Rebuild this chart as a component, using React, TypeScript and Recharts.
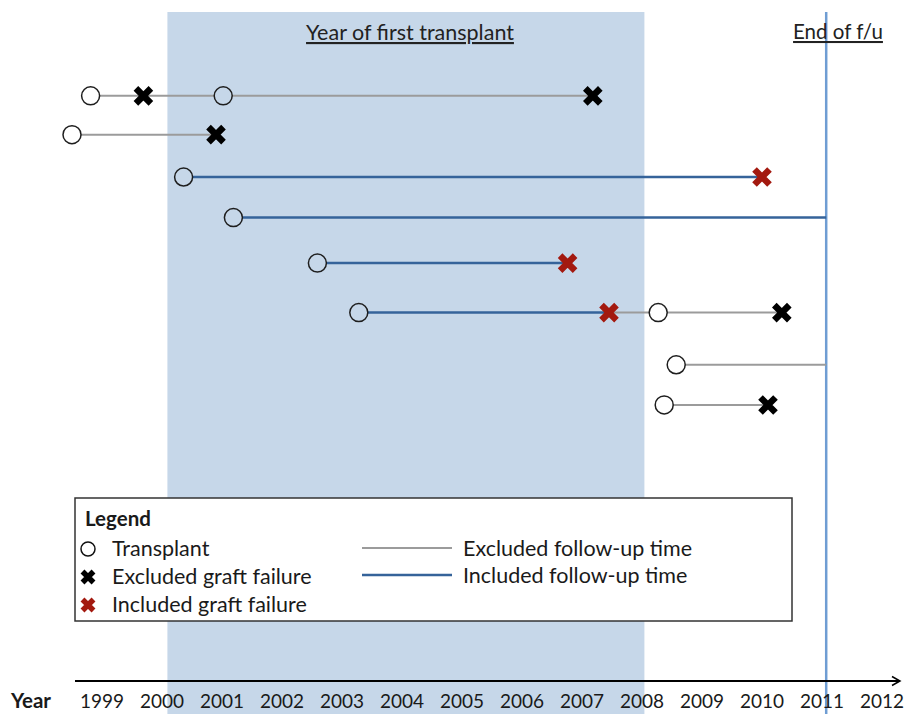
import React from "react";
import { ComposedChart, ReferenceArea, ReferenceLine, Scatter, XAxis, YAxis } from "recharts";

const years = [1999, 2000, 2001, 2002, 2003, 2004, 2005, 2006, 2007, 2008, 2009, 2010, 2011, 2012];

// vertical lane of each patient row (0 = top of plot)
const laneRows = [1.88, 2.75, 3.7, 4.61, 5.63, 6.74, 7.91, 8.81];

const firstTransplantWindow = [2000.09, 2008.04];
const endOfFollowUp = 2011.07;

const excludedSpans = [
  { row: 0, from: 1998.81, to: 2007.18 },
  { row: 1, from: 1998.5, to: 2000.9 },
  { row: 5, from: 2007.45, to: 2010.33 },
  { row: 6, from: 2008.57, to: 2011.07 },
  { row: 7, from: 2008.37, to: 2010.1 },
];

const includedSpans = [
  { row: 2, from: 2000.36, to: 2010.0 },
  { row: 3, from: 2001.19, to: 2011.07 },
  { row: 4, from: 2002.59, to: 2006.76 },
  { row: 5, from: 2003.28, to: 2007.45 },
];

const transplants = [
  { row: 0, year: 1998.81 },
  { row: 0, year: 2001.02 },
  { row: 1, year: 1998.5 },
  { row: 2, year: 2000.36 },
  { row: 3, year: 2001.19 },
  { row: 4, year: 2002.59 },
  { row: 5, year: 2003.28 },
  { row: 5, year: 2008.27 },
  { row: 6, year: 2008.57 },
  { row: 7, year: 2008.37 },
];

const excludedFailures = [
  { row: 0, year: 1999.69 },
  { row: 0, year: 2007.18 },
  { row: 1, year: 2000.9 },
  { row: 5, year: 2010.33 },
  { row: 7, year: 2010.1 },
];

const includedFailures = [
  { row: 2, year: 2010.0 },
  { row: 4, year: 2006.76 },
  { row: 5, year: 2007.45 },
];

const SHADE = "#c6d7e9";
const GREY = "#9b9b9b";
const BLUE = "#35639a";
const RED = "#a3190f";
const INK = "#1a1a1a";
const FONT = "Lato, 'Open Sans', sans-serif";

const toPoints = (items: { row: number; year: number }[]) =>
  items.map((d) => ({ x: d.year, y: laneRows[d.row] }));

const crossPath = (cx: number, cy: number, s: number) =>
  `M${cx - s},${cy - s}L${cx + s},${cy + s}M${cx - s},${cy + s}L${cx + s},${cy - s}`;

const makeCross = (color: string) => (props: any) => {
  const { cx, cy } = props;
  return <path d={crossPath(cx, cy, 7.5)} stroke={color} strokeWidth={6.5} fill="none" />;
};

const TransplantDot = (props: any) => {
  const { cx, cy, payload } = props;
  const inside = payload.x >= firstTransplantWindow[0] && payload.x <= firstTransplantWindow[1];
  return <circle cx={cx} cy={cy} r={9} fill={inside ? SHADE : "#fff"} stroke="#1e1e1e" strokeWidth={1.5} />;
};

const YearTick = (props: any) => {
  const { x, y, payload } = props;
  return (
    <text x={x} y={y + 27} textAnchor="middle" fontFamily={FONT} fontSize={19} fill={INK}>
      {payload.value}
    </text>
  );
};

const AxisArrow = (props: any) => {
  const { x1, y1, x2, y2 } = props;
  return (
    <g>
      <line x1={x1} y1={y1} x2={x2} y2={y2} stroke="#000" strokeWidth={2} />
      <path d={`M${x2 - 8},${y2 - 4.5}L${x2},${y2}L${x2 - 8},${y2 + 4.5}`} stroke="#000" strokeWidth={1.5} fill="none" />
    </g>
  );
};

const noDot = () => <g />;

function Overlay() {
  return (
    <svg width={904} height={714} style={{ position: "absolute", left: 0, top: 0, pointerEvents: "none" }}>
      <text x={410} y={40} textAnchor="middle" fontFamily={FONT} fontSize={21.5} fill="#222" textDecoration="underline">
        Year of first transplant
      </text>
      <text x={838} y={39} textAnchor="middle" fontFamily={FONT} fontSize={20.5} fill="#222" textDecoration="underline">
        End of f/u
      </text>
      <text x={11} y={708} fontFamily={FONT} fontSize={20.5} fontWeight="bold" fill={INK}>
        Year
      </text>

      <rect x={75} y={498} width={717} height={123} fill="#fff" stroke="#333" strokeWidth={1.5} />
      <g fontFamily={FONT} fontSize={21.5} fill={INK}>
        <text x={85} y={526} fontWeight="bold" fontSize={20.5}>Legend</text>
        <circle cx={88} cy={549} r={7} fill="#fff" stroke="#111" strokeWidth={1.5} />
        <text x={112} y={556}>Transplant</text>
        <path d={crossPath(88, 577, 5.5)} stroke="#000" strokeWidth={5.5} fill="none" />
        <text x={112} y={584}>Excluded graft failure</text>
        <path d={crossPath(88, 605, 5.5)} stroke={RED} strokeWidth={5.5} fill="none" />
        <text x={112} y={612}>Included graft failure</text>
        <line x1={362} y1={548} x2={452} y2={548} stroke={GREY} strokeWidth={2} />
        <text x={463} y={556}>Excluded follow-up time</text>
        <line x1={362} y1={575} x2={452} y2={575} stroke={BLUE} strokeWidth={2.5} />
        <text x={463} y={583}>Included follow-up time</text>
      </g>
    </svg>
  );
}

export default function App() {
  return (
    <div style={{ position: "absolute", left: 0, top: 0, width: 904, height: 714, background: "#fff" }}>
      <ComposedChart width={904} height={714} margin={{ top: 12, right: 4, bottom: 0, left: 60 }}>
        <XAxis
          dataKey="x"
          type="number"
          domain={[1998.3, 2012.3]}
          ticks={years}
          allowDataOverflow
          axisLine={false}
          tickLine={false}
          tickSize={0}
          tickMargin={0}
          height={33}
          tick={<YearTick />}
          interval={0}
        />
        <YAxis dataKey="y" type="number" domain={[0, 15]} reversed hide allowDataOverflow width={0} />

        <ReferenceArea
          x1={firstTransplantWindow[0]}
          x2={firstTransplantWindow[1]}
          y1={0}
          y2={15.8}
          fill={SHADE}
          fillOpacity={1}
          stroke="none"
          ifOverflow="visible"
        />
        <ReferenceLine
          segment={[
            { x: endOfFollowUp, y: 0 },
            { x: endOfFollowUp, y: 15.8 },
          ]}
          stroke="#6f9dd3"
          strokeWidth={2.5}
          ifOverflow="visible"
        />
        <ReferenceLine
          segment={[
            { x: 1998.55, y: 15 },
            { x: 2012.3, y: 15 },
          ]}
          ifOverflow="visible"
          shape={<AxisArrow />}
        />

        {excludedSpans.map((s, i) => (
          <Scatter
            key={`ex-${i}`}
            data={[
              { x: s.from, y: laneRows[s.row] },
              { x: s.to, y: laneRows[s.row] },
            ]}
            line={{ stroke: GREY, strokeWidth: 2 }}
            shape={noDot}
            isAnimationActive={false}
          />
        ))}
        {includedSpans.map((s, i) => (
          <Scatter
            key={`in-${i}`}
            data={[
              { x: s.from, y: laneRows[s.row] },
              { x: s.to, y: laneRows[s.row] },
            ]}
            line={{ stroke: BLUE, strokeWidth: 2.5 }}
            shape={noDot}
            isAnimationActive={false}
          />
        ))}

        <Scatter data={toPoints(transplants)} shape={TransplantDot} isAnimationActive={false} />
        <Scatter data={toPoints(excludedFailures)} shape={makeCross("#000")} isAnimationActive={false} />
        <Scatter data={toPoints(includedFailures)} shape={makeCross(RED)} isAnimationActive={false} />
      </ComposedChart>
      <Overlay />
    </div>
  );
}
